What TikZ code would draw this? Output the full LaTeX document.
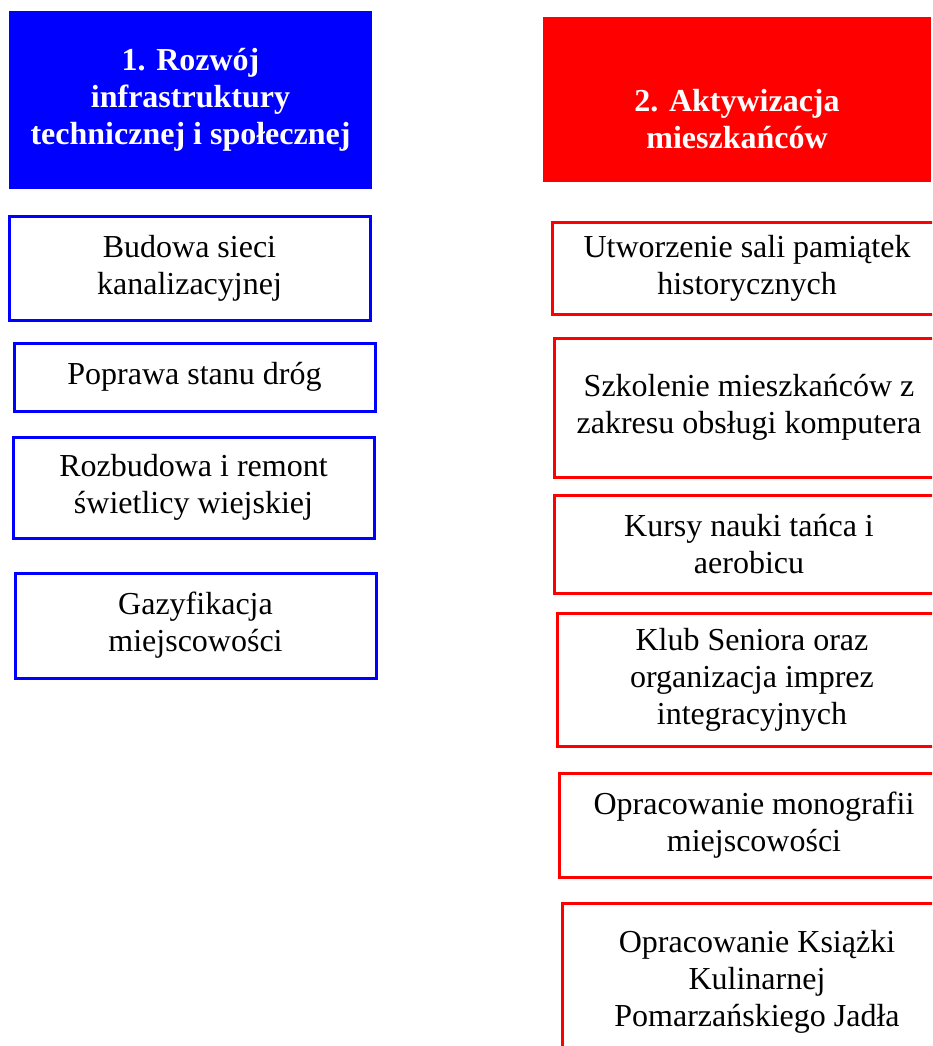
\documentclass[tikz,border=0pt]{standalone}
\usepackage{fontspec}
\setmainfont{Liberation Serif}
\definecolor{hblue}{RGB}{0,0,255}
\definecolor{hred}{RGB}{255,0,0}
\begin{document}
\begin{tikzpicture}[x=1pt,y=-1pt,
  base/.style={rectangle,inner sep=0pt,align=center,font=\fontsize{32}{37}\selectfont},
  bluehead/.style={base,fill=hblue,text=white,font=\fontsize{32}{37}\selectfont\bfseries,minimum width=363pt},
  redhead/.style={base,fill=hred,minimum width=388pt},
  bluebox/.style={base,draw=hblue,line width=3pt,minimum width=361pt},
  redbox/.style={base,draw=hred,line width=3pt,minimum width=390pt},
  headtext/.style={base,text=white,font=\fontsize{32}{37}\selectfont\bfseries}
]
\useasboundingbox (0,0) rectangle (932,1046);
\clip (0,0) rectangle (932,1046);
% left column
\node[bluehead,minimum height=178pt] (b0) at (190.5,100) {1. Rozwój\\infrastruktury\\technicznej i społecznej};
\node[bluebox,minimum height=104pt] (b1) at (189.5,268) {Budowa sieci\\kanalizacyjnej};
\node[bluebox,minimum height=68pt] (b2) at (194.5,377) {Poprawa stanu dróg};
\node[bluebox,minimum height=101pt] (b3) at (193.5,487.5) {Rozbudowa i remont\\świetlicy wiejskiej};
\node[bluebox,minimum height=105pt] (b4) at (195.5,625.5) {Gazyfikacja\\miejscowości};
% right column
\node[redhead,minimum height=165pt] (r0) at (737,99.5) {};
\node[headtext] (r0t) at ([yshift=-20pt]r0.center) {2. Aktywizacja\\mieszkańców};
\node[redbox,minimum height=92pt] (r1) at (747,268) {Utworzenie sali pamiątek\\historycznych};
\node[redbox,minimum height=139pt] (r2) at (749,407.5) {Szkolenie mieszkańców z\\zakresu obsługi komputera};
\node[redbox,minimum height=98pt] (r3) at (749,544) {Kursy nauki tańca i\\aerobicu};
\node[redbox,minimum height=133pt] (r4) at (752,679.5) {Klub Seniora oraz\\organizacja imprez\\integracyjnych};
\node[redbox,minimum height=104pt] (r5) at (754,825) {Opracowanie monografii\\miejscowości};
\node[redbox,minimum height=157pt] (r6) at (757,981.5) {Opracowanie Książki\\Kulinarnej\\Pomarzańskiego Jadła};
\end{tikzpicture}
\end{document}
